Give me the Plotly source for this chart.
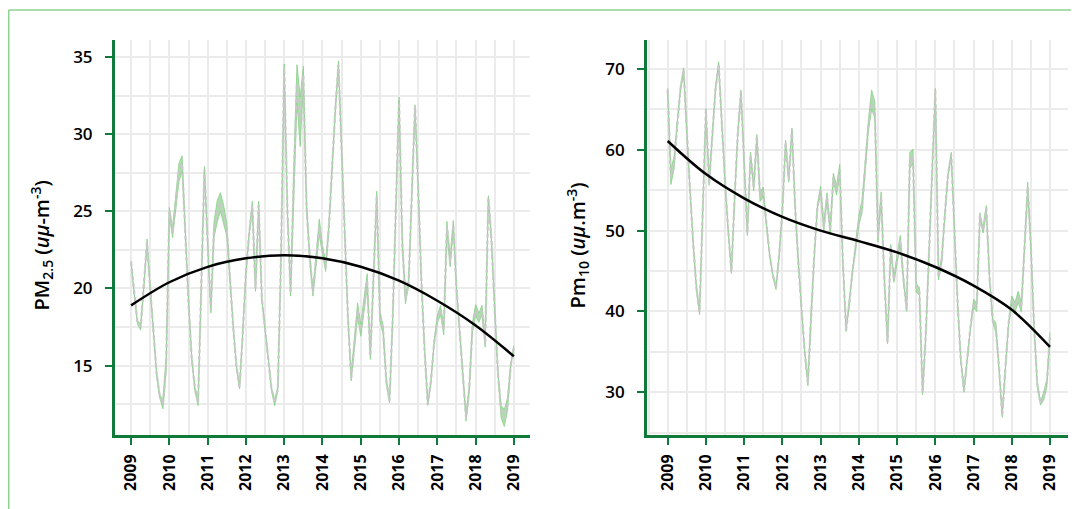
import plotly.graph_objects as go

# ---------------- data ----------------
start_year = 2009
n_months = 121
fit_years = [2009, 2010, 2011, 2012, 2013, 2014, 2015, 2016, 2017, 2018, 2019]
tick_years = [2009, 2010, 2011, 2012, 2013, 2014, 2015, 2016, 2017, 2018, 2019]

pm25 = [21.7, 19.5, 17.8, 17.5, 20.0, 23.0, 20.0, 17.0, 14.5, 13.0,
        12.5, 15.1, 25.0, 23.6, 25.5, 27.5, 28.1, 23.5, 19.0, 15.5,
        13.5, 12.6, 20.0, 27.7, 23.0, 18.6, 23.8, 25.0, 25.6, 24.8,
        23.8, 20.5, 17.5, 15.0, 13.6, 17.0, 21.0, 23.5, 25.4, 20.0,
        25.4, 19.3, 17.5, 15.5, 13.5, 12.6, 13.5, 22.0, 34.3, 25.0,
        19.7, 27.0, 33.3, 30.8, 33.8, 25.3, 22.0, 19.7, 22.0, 24.0,
        22.5, 21.4, 24.0, 28.0, 31.5, 34.5, 29.0, 23.0, 18.0, 14.2,
        16.5, 18.6, 17.3, 19.0, 20.5, 15.6, 21.0, 26.0, 18.2, 17.3,
        14.0, 12.7, 18.0, 25.0, 32.3, 23.0, 19.3, 20.4, 26.0, 31.8,
        26.5, 20.5, 16.0, 12.5, 14.0, 16.5, 18.0, 18.6, 17.3, 24.0,
        21.7, 24.1, 20.0, 17.0, 14.5, 11.6, 13.5, 17.5, 18.6, 18.1,
        18.6, 16.5, 25.9, 23.0, 18.5, 14.5, 12.0, 11.6, 12.5, 15.0,
        16.2]
pm25_spread = [0.08, 0.08, 0.1, 0.2, 0.1, 0.2, 0.08, 0.08, 0.08, 0.1,
               0.3, 0.45, 0.25, 0.3, 0.5, 0.6, 0.5, 0.3, 0.08, 0.08,
               0.1, 0.2, 0.1, 0.2, 0.1, 0.2, 0.5, 0.7, 0.6, 0.6,
               0.4, 0.1, 0.08, 0.08, 0.1, 0.08, 0.08, 0.1, 0.25, 0.2,
               0.25, 0.1, 0.08, 0.08, 0.08, 0.2, 0.1, 0.08, 0.25, 0.2,
               0.2, 0.8, 1.2, 1.6, 0.6, 0.3, 0.2, 0.2, 0.4, 0.5,
               0.3, 0.3, 0.2, 0.1, 0.2, 0.25, 0.1, 0.08, 0.08, 0.2,
               0.35, 0.45, 0.4, 0.4, 0.45, 0.2, 0.1, 0.3, 0.3, 0.3,
               0.1, 0.1, 0.08, 0.08, 0.1, 0.25, 0.3, 0.2, 0.1, 0.1,
               0.08, 0.08, 0.08, 0.08, 0.1, 0.08, 0.25, 0.3, 0.3, 0.35,
               0.3, 0.3, 0.08, 0.08, 0.08, 0.2, 0.25, 0.3, 0.35, 0.3,
               0.3, 0.3, 0.1, 0.1, 0.08, 0.08, 0.4, 0.55, 0.4, 0.1,
               0.1]
pm25_fit = [18.9, 20.4, 21.4, 21.95, 22.15, 21.95, 21.4, 20.5, 19.2, 17.6, 15.6]

pm10 = [67.4, 56.6, 58.4, 63.5, 67.5, 69.9, 62.0, 55.0, 48.5, 43.0,
        39.9, 52.0, 64.9, 55.9, 62.0, 67.5, 70.6, 63.0, 56.0, 50.0,
        44.9, 54.0, 62.0, 67.2, 58.5, 49.7, 59.4, 55.4, 61.6, 54.2,
        54.8, 50.5, 47.0, 44.5, 42.9, 47.0, 52.5, 60.9, 56.3, 62.5,
        52.9, 46.0, 40.0, 35.0, 31.1, 40.0, 47.0, 53.0, 55.0, 50.4,
        54.2, 50.0, 56.6, 55.0, 57.5, 46.0, 37.7, 41.0, 45.0, 48.0,
        51.3, 53.0, 58.0, 63.0, 66.2, 65.0, 49.2, 54.2, 44.0, 36.2,
        48.0, 43.9, 46.5, 48.8, 44.0, 40.2, 58.7, 59.2, 42.9, 42.5,
        29.9, 37.0, 47.0, 57.0, 67.4, 44.2, 46.4, 52.0, 57.0, 59.4,
        50.0, 41.0, 34.0, 30.2, 34.0, 38.0, 41.0, 40.5, 51.9, 50.0,
        52.8, 44.2, 38.9, 38.0, 33.0, 27.1, 33.0, 38.5, 41.4, 40.5,
        41.8, 40.5, 48.0, 55.4, 48.0, 38.0, 31.0, 28.6, 29.5, 31.1,
        37.1]
pm10_spread = [0.25, 0.9, 0.8, 0.25, 0.25, 0.25, 0.2, 0.2, 0.2, 0.2,
               0.3, 0.2, 0.2, 0.3, 0.2, 0.2, 0.3, 0.2, 0.2, 0.2,
               0.2, 0.2, 0.2, 0.2, 0.2, 0.3, 0.3, 0.5, 0.3, 0.6,
               0.6, 0.2, 0.2, 0.2, 0.2, 0.2, 0.2, 0.3, 0.3, 0.2,
               0.3, 0.2, 0.2, 0.2, 0.3, 0.2, 0.2, 0.2, 0.5, 0.5,
               0.5, 0.5, 0.5, 0.6, 0.7, 0.2, 0.2, 0.2, 0.2, 0.5,
               0.6, 0.8, 0.5, 0.6, 1.2, 1.0, 0.6, 0.6, 0.3, 0.2,
               0.3, 0.3, 0.5, 0.6, 0.3, 0.2, 1.0, 0.9, 0.5, 0.5,
               0.2, 0.2, 0.2, 0.2, 0.2, 0.3, 0.3, 0.2, 0.2, 0.3,
               0.2, 0.2, 0.2, 0.2, 0.2, 0.2, 0.5, 0.5, 0.3, 0.3,
               0.3, 0.2, 0.2, 0.6, 0.2, 0.2, 0.2, 0.2, 0.5, 0.6,
               0.7, 0.6, 0.3, 0.6, 0.3, 0.2, 0.2, 0.2, 0.5, 0.5,
               0.3]
pm10_fit = [61.1, 57.0, 54.0, 51.7, 50.0, 48.7, 47.3, 45.5, 43.2, 40.2, 35.6]

time = [start_year + i / 12 for i in range(n_months)]

# ---------------- styling ----------------
AXIS_GREEN = "#107a3b"
BAND_FILL = "rgba(120,200,120,0.6)"
BAND_EDGE = "rgba(140,210,140,0.85)"
DASH_GRAY = "rgba(200,200,200,1)"
GRID = "#ebebeb"

fig = go.Figure()


def add_panel(values, spread, fit, xa, ya):
    lower = [v - s for v, s in zip(values, spread)]
    upper = [v + s for v, s in zip(values, spread)]
    fig.add_trace(go.Scatter(x=time, y=lower, mode="lines", xaxis=xa, yaxis=ya,
                             line=dict(color=BAND_EDGE, width=1), showlegend=False,
                             hoverinfo="skip"))
    fig.add_trace(go.Scatter(x=time, y=upper, mode="lines", xaxis=xa, yaxis=ya,
                             fill="tonexty", fillcolor=BAND_FILL,
                             line=dict(color=BAND_EDGE, width=1), showlegend=False,
                             hoverinfo="skip"))
    fig.add_trace(go.Scatter(x=time, y=values, mode="lines", xaxis=xa, yaxis=ya,
                             line=dict(color=DASH_GRAY, width=2.2, dash="4px,3px"),
                             showlegend=False))
    fig.add_trace(go.Scatter(x=fit_years, y=fit, mode="lines", xaxis=xa, yaxis=ya,
                             line=dict(color="black", width=2.5, shape="spline", smoothing=1.0),
                             showlegend=False))


add_panel(pm25, pm25_spread, pm25_fit, "x", "y")
add_panel(pm10, pm10_spread, pm10_fit, "x2", "y2")

xcommon = dict(
    tickmode="array", tickvals=tick_years, ticktext=[str(y) for y in tick_years],
    tickangle=-90, ticks="outside", ticklen=7, tickwidth=2, tickcolor=AXIS_GREEN,
    showline=True, linecolor=AXIS_GREEN, linewidth=3,
    showgrid=True, gridcolor=GRID, gridwidth=1.5,
    minor=dict(dtick=0.5, tick0=2009, showgrid=True, gridcolor=GRID, gridwidth=1.5, ticks=""),
    zeroline=False,
    tickfont=dict(family="Open Sans", size=16, color="black", weight="bold"),
    ticklabelstandoff=3,
)
ycommon = dict(
    ticks="outside", ticklen=7, tickwidth=2, tickcolor=AXIS_GREEN,
    showline=True, linecolor=AXIS_GREEN, linewidth=3,
    showgrid=True, gridcolor=GRID, gridwidth=1.5, zeroline=False,
    tickfont=dict(family="Open Sans", size=17, color="black", weight=600),
    ticklabelstandoff=9,
)

fig.update_layout(
    width=1079, height=509,
    margin=dict(l=52, r=18, t=32, b=82),
    paper_bgcolor="white", plot_bgcolor="white",
    xaxis=dict(domain=[0.0545, 0.4658], range=[2008.58, 2019.42], anchor="y", **xcommon),
    yaxis=dict(domain=[0, 1], range=[10.5, 36.1], anchor="x", dtick=5, tick0=0,
               minor=dict(dtick=2.5, showgrid=True, gridcolor=GRID, gridwidth=1.5, ticks=""),
               **ycommon),
    xaxis2=dict(domain=[0.5818, 0.999], range=[2008.46, 2019.47], anchor="y2", **xcommon),
    yaxis2=dict(domain=[0, 1], range=[24.7, 73.6], anchor="x2", dtick=10, tick0=0,
                minor=dict(dtick=5, showgrid=True, gridcolor=GRID, gridwidth=1.5, ticks=""),
                **ycommon),
    annotations=[
        dict(text="PM<sub>2.5</sub> (<i>uμ</i>-m<sup>-3</sup>)", xref="paper", yref="paper",
             x=-0.0178, y=0.48, xanchor="center", yanchor="middle", textangle=-90,
             showarrow=False,
             font=dict(family="Open Sans", size=20, color="black", weight=600)),
        dict(text="Pm<sub>10</sub> (<i>uμ</i>.m<sup>-3</sup>)", xref="paper", yref="paper",
             x=0.5134, y=0.48, xanchor="center", yanchor="middle", textangle=-90,
             showarrow=False,
             font=dict(family="Open Sans", size=20, color="black", weight=600)),
    ],
    shapes=[
        dict(type="line", xref="paper", yref="paper", x0=-0.0508, x1=1.02, y0=1.076, y1=1.076,
             line=dict(color="#8fd18f", width=1.5)),
        dict(type="line", xref="paper", yref="paper", x0=-0.0508, x1=-0.0508, y0=1.076, y1=-0.25,
             line=dict(color="#8fd18f", width=1.5)),
    ],
)

fig.write_html("out.html")
